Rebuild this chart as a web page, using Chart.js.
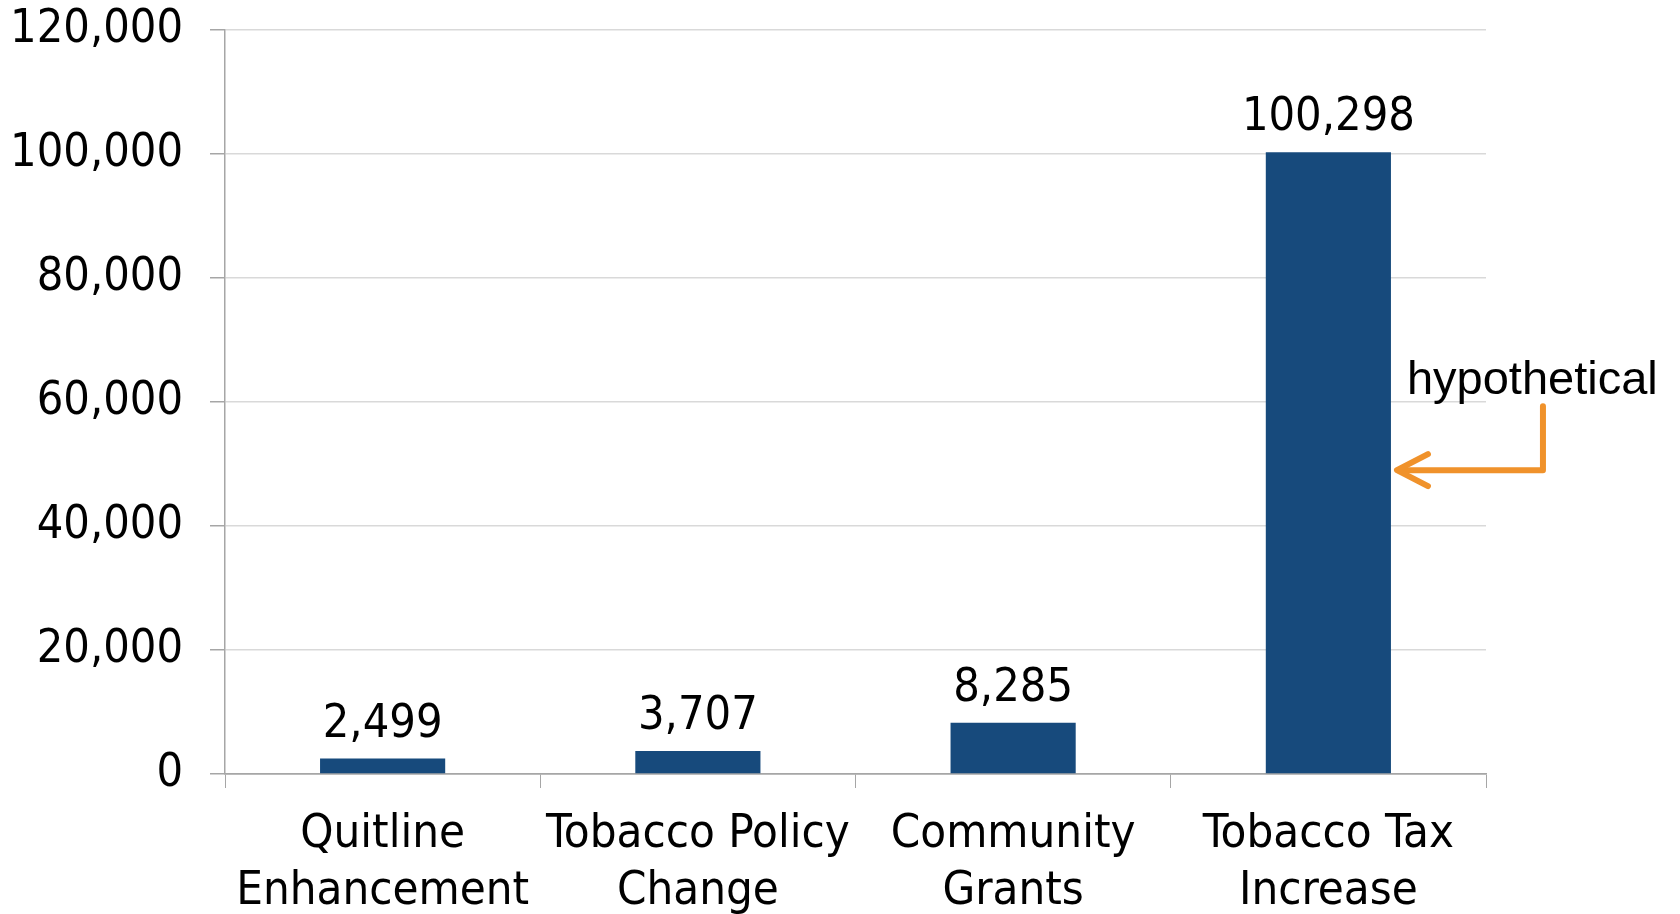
<!DOCTYPE html>
<html>
<head>
<meta charset="utf-8">
<script src="https://cdn.jsdelivr.net/npm/chart.js@4.4.1/dist/chart.umd.min.js"></script>
<style>
  html, body { margin: 0; padding: 0; background: #ffffff; }
  canvas { display: block; }
</style>
</head>
<body>
<canvas id="c" width="1680" height="914"></canvas>
<script>
const categories = [["Quitline", "Enhancement"], ["Tobacco Policy", "Change"], ["Community", "Grants"], ["Tobacco Tax", "Increase"]];
const values = [2499, 3707, 8285, 100298];
const yTicks = [0, 20000, 40000, 60000, 80000, 100000, 120000];
const annotationText = "hypothetical";
const annotationValue = 49000;

const FONT = '"DejaVu Sans Condensed", "DejaVu Sans", sans-serif';
const fmt = v => v.toLocaleString('en-US');

const overlayPlugin = {
  id: 'overlay',
  afterDatasetsDraw(chart) {
    const ctx = chart.ctx;
    const meta = chart.getDatasetMeta(0);
    ctx.save();
    ctx.font = '46.5px ' + FONT;
    ctx.fillStyle = '#000000';
    ctx.textAlign = 'center';
    ctx.textBaseline = 'alphabetic';
    meta.data.forEach((bar, i) => {
      ctx.fillText(fmt(values[i]), bar.x, bar.y - 22);
    });

    // "hypothetical" annotation pointing at the last bar
    const last = meta.data[meta.data.length - 1];
    const tipX = last.x + last.width / 2 + 6;
    const ay = chart.scales.y.getPixelForValue(annotationValue);
    ctx.font = '47px "Liberation Sans", Arial, sans-serif';
    ctx.textAlign = 'left';
    ctx.fillText(annotationText, tipX + 10, ay - 76);

    ctx.strokeStyle = '#F0922B';
    ctx.lineWidth = 6;
    ctx.lineCap = 'round';
    ctx.lineJoin = 'round';
    const vx = tipX + 146;
    ctx.beginPath();
    ctx.moveTo(vx, ay - 64);
    ctx.lineTo(vx, ay);
    ctx.lineTo(tipX + 2, ay);
    ctx.stroke();
    ctx.beginPath();
    ctx.moveTo(tipX + 31, ay - 16);
    ctx.lineTo(tipX, ay);
    ctx.lineTo(tipX + 31, ay + 16);
    ctx.stroke();
    ctx.restore();
  }
};

new Chart(document.getElementById('c'), {
  type: 'bar',
  data: {
    labels: categories,
    datasets: [{
      data: values,
      backgroundColor: '#174A7C',
      borderWidth: 0,
      categoryPercentage: 1.0,
      barPercentage: 0.397
    }]
  },
  options: {
    responsive: false,
    animation: false,
    events: [],
    layout: { padding: { top: 30, right: 194, bottom: 0, left: 0 } },
    plugins: {
      legend: { display: false },
      tooltip: { enabled: false }
    },
    scales: {
      x: {
        grid: {
          display: true,
          drawOnChartArea: false,
          drawTicks: true,
          tickLength: 14,
          color: '#a6a6a6',
          offset: true
        },
        border: { display: true, color: '#a6a6a6', width: 1.5 },
        ticks: {
          color: '#000000',
          padding: 19,
          maxRotation: 0,
          autoSkip: false,
          font: { family: FONT, size: 47, lineHeight: 1.2 }
        },
        afterFit(scale) {
          scale.height = 140;
          scale.paddingLeft = 0; scale.paddingRight = 0;
          scale.paddingTop = 0; scale.paddingBottom = 0;
        }
      },
      y: {
        min: 0,
        max: 120000,
        afterBuildTicks(scale) { scale.ticks = yTicks.map(v => ({ value: v })); },
        grid: {
          color: ctx => (ctx.tick && ctx.tick.value === 0) ? '#a6a6a6' : '#d9d9d9',
          tickColor: '#a6a6a6',
          tickLength: 15,
          lineWidth: 1.5
        },
        border: { display: true, color: '#a6a6a6', width: 1.5 },
        ticks: {
          color: '#000000',
          padding: 27,
          font: { family: FONT, size: 46.5 },
          callback: v => fmt(v)
        },
        afterFit(scale) {
          scale.width = 225;
          scale.paddingTop = 0; scale.paddingBottom = 0;
          scale.paddingLeft = 0; scale.paddingRight = 0;
        }
      }
    }
  },
  plugins: [overlayPlugin]
});
</script>
</body>
</html>
